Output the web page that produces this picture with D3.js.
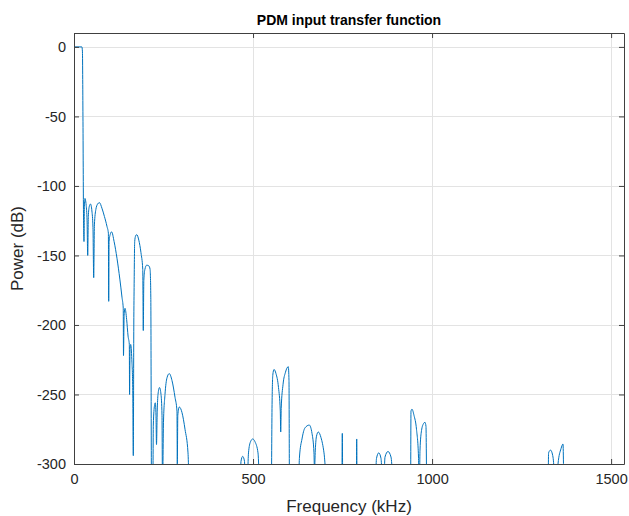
<!DOCTYPE html>
<html>
<head>
<meta charset="utf-8">
<script src="https://cdn.jsdelivr.net/npm/d3@7"></script>
<style>
  html, body { margin: 0; padding: 0; background: #fff; }
  svg { display: block; font-family: "Liberation Sans", Arial, sans-serif; }
</style>
</head>
<body>
<svg id="chart" width="629" height="516"></svg>
<script>
// ---- data ----
const freqKHz = [
  0, 22, 23.5, 25, 26.5, 27.9, 29, 30.7, 32, 34, 36.5, 38.3, 40, 42.5, 46, 50, 53, 55, 57, 61, 66, 71, 78, 85, 92, 96, 96.9, 98, 101, 105, 112, 120, 128, 134, 137.5, 138.2, 140, 142.4, 147, 151, 154.5, 155.2, 156.5, 158.3, 161.5, 164, 165.6, 167, 168, 169.5, 172, 175.1, 181, 187, 192, 193.5, 195, 198, 203, 209, 212.5, 214.5, 216.5,
  220.1, 221.5, 224.8, 227.0, 229.0, 230.4, 232.4, 234.6, 238.8, 243.0, 245.8, 247.2, 249.9, 254.1, 259.7, 266.1, 273.7, 282.1, 287.6, 288.5, 289.9, 294.1, 301.6, 310.0, 318.4, 322.5,
  463.6, 466.4, 471.1, 476.1, 478.9, 483.1, 487.3, 492.9, 499.1, 505.5, 513.9, 519.4,
  551.0, 553.0, 555.2, 558.5, 564.1, 571.1, 576.1, 577.3, 578.7, 583.7, 590.6, 598.5, 600.4, 601.8,
  625.6, 629.7, 636.7, 645.1, 657.1, 664.7, 670.2, 671.6, 673.9, 677.2, 682.3, 689.8, 698.2, 708.5,
  747.9, 749.3, 750.7, 788.4, 789.5, 790.6,
  840.6, 844.8, 851.0, 857.4, 863.0, 864.3, 868.5, 876.9, 885.3, 893.7,
  940.0, 941.1, 943.9, 949.5, 956.5, 962.1, 964.3, 966.3, 970.5, 976.1, 980.2, 983.0, 985.3,
  1323.7, 1325.4, 1330.7, 1337.7, 1346.1, 1351.7, 1360.1, 1365.7, 1368.5, 1536
];
const powerDb = [
  0, 0, -3, -50, -120, -140, -115, -109, -110, -114, -125, -150, -122, -115, -113, -118, -130, -166, -128, -117, -113, -112, -116, -122, -129, -134, -183, -140, -135, -133, -140, -152, -167, -180, -188, -222, -193, -188, -196, -208, -214, -250, -217, -214, -225, -245, -294, -200, -170, -140, -136, -135, -139, -148, -160, -204, -168, -160, -157, -157.5, -160, -180, -320,
  -320, -272, -258, -256, -265, -286, -262, -250, -245, -250, -265, -320, -270, -250, -238, -235, -240, -252, -262, -300, -265, -259, -263, -275, -292, -320,
  -320, -298, -294.5, -298, -320, -320, -292, -284, -282, -284, -292, -320,
  -320, -260, -236, -232, -235, -245, -262, -277, -260, -243, -234, -230, -240, -320,
  -320, -295, -282, -274, -272, -278, -292, -305, -290, -280, -277, -281, -292, -320,
  -320, -278, -320, -320, -282, -320,
  -320, -296, -292, -296, -320, -320, -295, -291, -295, -320,
  -320, -262, -260.6, -265, -275, -295, -320, -290, -276, -271, -270, -273, -320,
  -320, -292, -290, -295, -320, -300, -289, -285.6, -320, -320
];
const xTickValues = [0, 500, 1000, 1500];
const yTickValues = [0, -50, -100, -150, -200, -250, -300];
const xDomain = [0, 1536];
const yDomain = [-300, 10];
const titleText = "PDM input transfer function";
const xLabelText = "Frequency (kHz)";
const yLabelText = "Power (dB)";

// ---- layout ----
const mLeft = 74, mRight = 624, mTop = 33, mBottom = 464;
const svg = d3.select("#chart");
const x = d3.scaleLinear().domain(xDomain).range([mLeft, mRight]);
const y = d3.scaleLinear().domain(yDomain).range([mBottom, mTop]);

svg.append("rect").attr("width", 629).attr("height", 516).attr("fill", "#fff");

// grid
const grid = svg.append("g").attr("stroke", "#e3e3e3").attr("stroke-width", 1);
grid.selectAll("line.v").data(xTickValues).enter().append("line")
  .attr("x1", d => Math.round(x(d)) + 0.5).attr("x2", d => Math.round(x(d)) + 0.5)
  .attr("y1", mTop).attr("y2", mBottom);
grid.selectAll("line.h").data(yTickValues).enter().append("line")
  .attr("y1", d => Math.round(y(d)) + 0.5).attr("y2", d => Math.round(y(d)) + 0.5)
  .attr("x1", mLeft).attr("x2", mRight);

// clip
svg.append("clipPath").attr("id", "clip").append("rect")
  .attr("x", mLeft).attr("y", mTop).attr("width", mRight - mLeft).attr("height", mBottom - mTop);

const pts = freqKHz.map((f, i) => [f, powerDb[i]]);
const line = d3.line().x(d => x(d[0])).y(d => y(d[1])).curve(d3.curveMonotoneX);
svg.append("path")
  .attr("clip-path", "url(#clip)")
  .attr("d", line(pts))
  .attr("fill", "none")
  .attr("stroke", "#0072BD")
  .attr("stroke-width", 1);

// axes
const axisColor = "#404040";
const fontSize = "14.5px";
const fmt = d => String(d);
const gx = svg.append("g").attr("transform", `translate(0,${mBottom})`)
  .call(d3.axisBottom(x).tickValues(xTickValues).tickSizeInner(-5).tickSizeOuter(0).tickPadding(10).tickFormat(fmt));
const gy = svg.append("g").attr("transform", `translate(${mLeft},0)`)
  .call(d3.axisLeft(y).tickValues(yTickValues).tickSizeInner(-5).tickSizeOuter(0).tickPadding(8).tickFormat(fmt));
const gxt = svg.append("g").attr("transform", `translate(0,${mTop})`)
  .call(d3.axisTop(x).tickValues(xTickValues).tickSizeInner(-5).tickSizeOuter(0).tickFormat(""));
const gyr = svg.append("g").attr("transform", `translate(${mRight},0)`)
  .call(d3.axisRight(y).tickValues(yTickValues).tickSizeInner(-5).tickSizeOuter(0).tickFormat(""));
[gx, gy, gxt, gyr].forEach(g => {
  g.select(".domain").attr("stroke", axisColor);
  g.selectAll(".tick line").attr("stroke", axisColor);
  g.selectAll("text").attr("fill", "#262626").style("font-size", fontSize)
    .style("font-family", '"Liberation Sans", Arial, sans-serif');
});

// titles
svg.append("text").attr("x", (mLeft + mRight) / 2).attr("y", 25)
  .attr("text-anchor", "middle").style("font-weight", "bold").style("font-size", "14px")
  .attr("fill", "#000").text(titleText);
svg.append("text").attr("x", (mLeft + mRight) / 2).attr("y", 512)
  .attr("text-anchor", "middle").style("font-size", "17px")
  .attr("fill", "#262626").text(xLabelText);
svg.append("text").attr("transform", `translate(23,${(mTop + mBottom) / 2}) rotate(-90)`)
  .attr("text-anchor", "middle").style("font-size", "17px")
  .attr("fill", "#262626").text(yLabelText);
</script>
</body>
</html>
